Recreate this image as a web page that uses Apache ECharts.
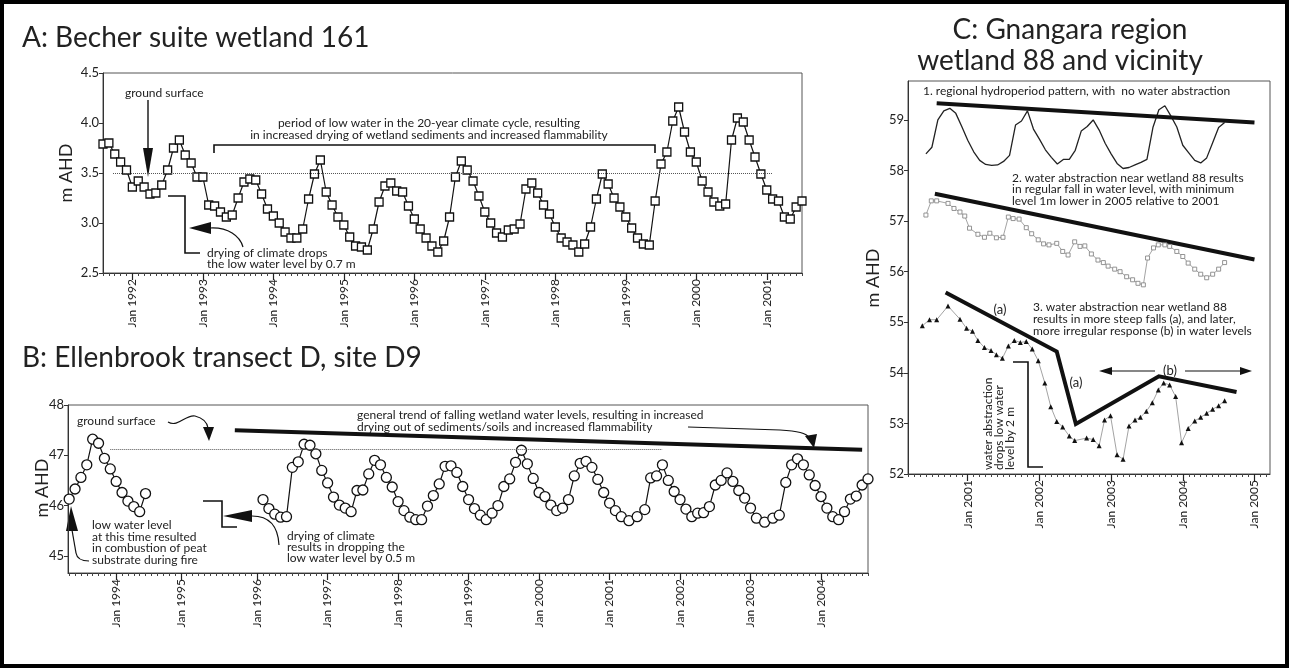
<!DOCTYPE html>
<html>
<head>
<meta charset="utf-8">
<script src="https://cdn.jsdelivr.net/npm/echarts@6/dist/echarts.min.js"></script>
<style>html,body{margin:0;background:#fff}#chart{width:1289px;height:668px}</style>
</head>
<body>
<div id="chart"></div>
<script>
const FONT = 'Lato, "Noto Sans", sans-serif';

// ---- A: Becher suite wetland 161 (monthly, months counted from Jan 1991, first = Aug 1991)
const aFirstMonth = 7;
const aLevels = [
  3.79, 3.80, 3.69, 3.61, 3.53, 3.36, 3.42, 3.36, 3.29, 3.30,
  3.38, 3.53, 3.75, 3.83, 3.68, 3.60, 3.46, 3.46, 3.18, 3.17,
  3.11, 3.06, 3.08, 3.25, 3.41, 3.44, 3.43, 3.29, 3.14, 3.07,
  3.00, 2.91, 2.85, 2.85, 2.94, 3.24, 3.49, 3.63, 3.31, 3.18,
  3.06, 2.98, 2.86, 2.77, 2.76, 2.73, 2.94, 3.21, 3.37, 3.40,
  3.32, 3.31, 3.17, 3.04, 2.94, 2.85, 2.77, 2.71, 2.82, 3.06,
  3.46, 3.62, 3.53, 3.42, 3.27, 3.11, 3.00, 2.90, 2.86, 2.93,
  2.94, 2.99, 3.34, 3.40, 3.30, 3.18, 3.09, 2.96, 2.85, 2.81,
  2.78, 2.71, 2.79, 2.96, 3.24, 3.49, 3.39, 3.25, 3.16, 3.06,
  2.95, 2.85, 2.79, 2.78, 3.22, 3.59, 3.71, 4.02, 4.16, 3.91,
  3.71, 3.61, 3.42, 3.31, 3.21, 3.17, 3.19, 3.83, 4.05, 4.01,
  3.83, 3.66, 3.49, 3.33, 3.24, 3.22, 3.06, 3.04, 3.16, 3.22
];
const aTickMonths = [12, 24, 36, 48, 60, 72, 84, 96, 108, 120];
const aTickLabels = ['Jan 1992', 'Jan 1993', 'Jan 1994', 'Jan 1995', 'Jan 1996',
  'Jan 1997', 'Jan 1998', 'Jan 1999', 'Jan 2000', 'Jan 2001'];

// ---- B: Ellenbrook transect D, site D9 (axis slots as drawn, Jan 1994 = 0; null = gap)
const bMonths = [
  -8, -7, -6, -5, -4, -3, -2, -1, 0, 1, 2, 3, 4, 5, 15,
  25, 26, 27, 28, 29, 30, 31, 32, 33, 34, 35, 36, 37, 38, 39, 40,
  41, 42, 43, 44, 45, 46, 47, 48, 49, 50,
  51, 52, 53, 54, 55, 56, 57, 58, 59, 60, 61, 62, 63, 64, 65, 66,
  67, 68, 69, 70, 71, 72, 73, 74, 75, 76, 77, 78, 79, 80, 81, 82,
  83, 84, 85, 86, 87.3, 88.7, 90, 91, 92, 93, 94, 95, 96, 97, 98,
  99, 100, 101, 102, 103, 104, 105, 106, 107, 108, 109, 110.4, 111.8, 112.9,
  114, 115, 116, 117, 118, 119, 120, 121, 122, 123, 124, 125, 126, 127, 128
];
const bLevels = [
  46.13, 46.33, 46.56, 46.81, 47.32, 47.24, 46.94, 46.73, 46.48, 46.26, 46.09, 45.98, 45.88, 46.24, null,
  46.12, 45.94, 45.83, 45.77, 45.78, 46.76, 46.87, 47.22, 47.20, 47.03, 46.70, 46.45, 46.17, 46.01, 45.95, 45.88,
  46.30, 46.31, 46.63, 46.90, 46.81, 46.56, 46.37, 46.08, 45.90, 45.77,
  45.72, 45.72, 45.99, 46.20, 46.43, 46.78, 46.79, 46.66, 46.38, 46.12, 45.94, 45.81, 45.72, 45.85, 46.00, 46.38,
  46.53, 46.86, 47.10, 46.83, 46.54, 46.26, 46.18, 46.01, 45.90, 45.95, 46.12, 46.59, 46.84, 46.88, 46.76, 46.52,
  46.26, 46.05, 45.90, 45.78, 45.70, 45.78, 45.92, 46.55, 46.59, 46.81, 46.50, 46.28, 46.12, 45.93, 45.78,
  45.85, 45.86, 45.98, 46.41, 46.50, 46.65, 46.48, 46.30, 46.15, 45.95, 45.75, 45.67, 45.75, 45.81,
  46.46, 46.81, 46.93, 46.81, 46.61, 46.40, 46.18, 45.95, 45.78, 45.72, 45.88, 46.13, 46.19, 46.41, 46.53
];
const bTickSlots = [0, 11, 24, 36, 48, 60, 72, 84, 96, 108, 120];
const bTickLabels = ['Jan 1994', 'Jan 1995', 'Jan 1996', 'Jan 1997', 'Jan 1998', 'Jan 1999',
  'Jan 2000', 'Jan 2001', 'Jan 2002', 'Jan 2003', 'Jan 2004'];
const bTrendMonths = [20.2, 127];
const bTrendLevels = [47.50, 47.11];

// ---- C: Gnangara region (months counted from Jan 2000)
const c1Months = [5, 6, 7, 8, 9, 10, 11, 12, 13, 14, 15, 16, 17, 18, 19, 20, 21, 22, 23, 24, 25, 26, 27,
  28, 29, 30, 31, 32, 33, 34, 35, 36, 37, 38, 39, 40, 41, 42, 43, 44, 45, 46, 47, 48, 49, 50, 51, 52, 53, 54, 55];
const c1Levels = [58.33, 58.46, 59.00, 59.18, 59.23, 59.13, 58.87, 58.60, 58.37, 58.20, 58.12, 58.10, 58.11,
  58.18, 58.30, 58.90, 58.98, 59.18, 58.82, 58.62, 58.41, 58.26, 58.13, 58.22, 58.22, 58.40, 58.78, 58.87,
  59.00, 58.80, 58.54, 58.33, 58.14, 58.04, 58.06, 58.11, 58.16, 58.22, 58.85, 59.20, 59.28, 59.08, 58.86,
  58.50, 58.35, 58.20, 58.15, 58.25, 58.55, 58.85, 58.95];
const c2Months = [5.0, 5.9, 6.8, 8.7, 9.7, 10.7, 11.5, 12.3, 13.7, 14.8, 15.7, 16.8, 17.9, 18.8, 19.6, 20.6,
  21.8, 22.7, 23.8, 24.7, 25.6, 26.9, 27.9, 28.8, 29.9, 30.8, 31.6, 32.7, 33.8, 34.7, 35.5, 36.6, 37.5, 38.6,
  39.6, 40.5, 41.4, 42.1, 43.1, 43.9, 45.0, 45.8, 47.0, 48.0, 48.9, 50, 51, 52, 53, 54, 55];
const c2Levels = [57.12, 57.40, 57.40, 57.35, 57.25, 57.18, 57.10, 56.86, 56.74, 56.68, 56.76, 56.67, 56.68,
  57.08, 57.05, 57.04, 56.87, 56.75, 56.63, 56.55, 56.53, 56.56, 56.40, 56.33, 56.59, 56.50, 56.51, 56.35,
  56.23, 56.18, 56.11, 56.05, 56.00, 55.90, 55.84, 55.77, 55.74, 56.27, 56.47, 56.53, 56.53, 56.50, 56.40,
  56.30, 56.17, 56.05, 55.95, 55.88, 55.95, 56.05, 56.18];
const c3Months = [4.4, 5.6, 6.8, 8.7, 10.7, 11.8, 12.8, 13.7, 14.8, 15.9, 16.8, 17.8, 18.8, 19.8, 20.8, 21.8,
  22.8, 23.8, 24.9, 25.9, 26.9, 27.9, 29.0, 29.9, 31.9, 33.0, 34.0, 34.9, 35.9, 37.0, 38.0, 39.0, 40.0, 40.9,
  41.9, 42.9, 43.9, 44.8, 45.8, 46.8, 47.8, 48.9, 50, 51, 52, 53, 54, 55];
const c3Levels = [54.93, 55.05, 55.05, 55.32, 55.06, 54.88, 54.82, 54.64, 54.50, 54.44, 54.36, 54.29, 54.53,
  54.64, 54.60, 54.62, 54.47, 54.24, 53.80, 53.33, 53.04, 52.93, 52.75, 52.66, 52.71, 52.68, 52.56, 53.07,
  53.15, 52.38, 52.29, 52.95, 53.07, 53.12, 53.24, 53.41, 53.66, 53.80, 53.76, 53.53, 52.62, 52.90, 53.05,
  53.12, 53.20, 53.28, 53.35, 53.45];
const c1TrendMonths = [6.8, 60];
const c1TrendLevels = [59.33, 58.95];
const c2TrendMonths = [6.5, 60];
const c2TrendLevels = [57.54, 56.24];
const c3TrendMonths = [8.3, 26.9, 30.1, 44.0, 57];
const c3TrendLevels = [55.59, 54.42, 52.99, 53.93, 53.62];
const cTickMonths = [12, 24, 36, 48, 60];
const cTickLabels = ['Jan 2001', 'Jan 2002', 'Jan 2003', 'Jan 2004', 'Jan 2005'];

const pairs = (xs, ys) => xs.map((x, i) => [x, ys[i] == null ? '-' : ys[i]]);
const steps = (a, b) => { const r = []; for (let v = a; v <= b; v++) r.push(v); return r; };

function minorAxis(grid, min, max) {
  return {
    type: 'value', gridIndex: grid, min, max, position: 'bottom',
    axisLine: { show: true, onZero: false, lineStyle: { color: '#333', width: 1 } },
    axisTick: { show: true, customValues: steps(Math.ceil(min), Math.floor(max)), length: 3, lineStyle: { color: '#444' } },
    axisLabel: { show: false }, splitLine: { show: false }
  };
}
function majorAxis(grid, min, max, ticks, labels) {
  return {
    type: 'value', gridIndex: grid, min, max, position: 'bottom',
    axisLine: { show: false, onZero: false },
    axisTick: { show: true, customValues: ticks, length: 7, lineStyle: { color: '#222', width: 1.2 } },
    axisLabel: {
      customValues: ticks, rotate: 90, margin: 6, fontSize: 12, color: '#222', fontFamily: FONT,
      formatter: v => labels[ticks.findIndex(t => Math.abs(t - v) < 1e-6)]
    },
    splitLine: { show: false }
  };
}
function levelAxis(grid, min, max, ticks, dec) {
  return {
    type: 'value', gridIndex: grid, min, max, position: 'left',
    axisLine: { show: true, onZero: false, lineStyle: { color: '#333', width: 1 } },
    axisTick: { show: true, customValues: ticks, length: 4, lineStyle: { color: '#333' } },
    axisLabel: { customValues: ticks, margin: 4, fontSize: 13, color: '#222', fontFamily: FONT,
      formatter: v => v.toFixed(dec) },
    splitLine: { show: false }
  };
}

const txt = (x, y, text, o = {}) => ({
  type: 'text', x, y, rotation: o.rot || 0, silent: true,
  style: { text, fill: '#222', font: (o.size || 12) + 'px ' + FONT,
    align: o.align || 'left', textAlign: o.align || 'left',
    verticalAlign: 'middle', textVerticalAlign: 'middle' }
});
const pline = (pts, w = 1.4) => ({ type: 'polyline', silent: true, shape: { points: pts },
  style: { stroke: '#111', lineWidth: w, fill: null } });
const head = pts => ({ type: 'polygon', silent: true, shape: { points: pts }, style: { fill: '#111' } });
const curve = (x1, y1, c1x, c1y, c2x, c2y, x2, y2, w = 1.2) => ({ type: 'bezierCurve', silent: true,
  shape: { x1, y1, cpx1: c1x, cpy1: c1y, cpx2: c2x, cpy2: c2y, x2, y2 },
  style: { stroke: '#111', lineWidth: w, fill: null } });

const graphics = [
  { type: 'rect', silent: true, shape: { x: 2, y: 2, width: 1285, height: 664 },
    style: { fill: null, stroke: '#000', lineWidth: 4 } },
  txt(22, 38, 'A: Becher suite wetland 161', { size: 28 }),
  txt(22, 358, 'B: Ellenbrook transect D, site D9', { size: 28 }),
  txt(1070, 30, 'C: Gnangara region', { size: 28, align: 'center' }),
  txt(1060, 61, 'wetland 88 and vicinity', { size: 28, align: 'center' }),
  txt(66, 173, 'm AHD', { size: 18, rot: Math.PI / 2, align: 'center' }),
  txt(42, 488, 'm AHD', { size: 18, rot: Math.PI / 2, align: 'center' }),
  txt(873, 278, 'm AHD', { size: 18, rot: Math.PI / 2, align: 'center' }),

  // A annotations
  txt(125, 93, 'ground surface'),
  pline([[148, 100], [148, 150]]), head([[143, 148], [153, 148], [148, 177]]),
  pline([[214, 153], [214, 145], [655, 145], [655, 153]], 1.6),
  txt(429, 123, 'period of low water in the 20-year climate cycle, resulting', { align: 'center' }),
  txt(429, 135, 'in increased drying of wetland sediments and increased flammability', { align: 'center' }),
  pline([[168, 196], [185, 196], [185, 253], [200, 253]], 1.6),
  head([[189, 228], [211, 222], [211, 234]]),
  curve(210, 228, 228, 227, 240, 236, 243, 247),
  txt(207, 253, 'drying of climate drops'),
  txt(207, 264, 'the low water level by 0.7 m'),

  // B annotations
  txt(77, 421, 'ground surface'),
  curve(168, 422, 178, 428, 186, 414, 195, 416), curve(195, 416, 203, 418, 207, 422, 208, 428),
  head([[203, 427], [214, 427], [209, 441]]),
  txt(357, 415, 'general trend of falling wetland water levels, resulting in increased'),
  txt(357, 427, 'drying out of sediments/soils and increased flammability'),
  pline([[688, 427], [780, 430]], 1.2), curve(780, 430, 798, 431, 806, 433, 810, 438),
  head([[805, 436], [817, 434], [814, 448]]),
  pline([[203, 501], [222, 501], [222, 527], [237, 527]], 1.6),
  head([[223, 516], [252, 510], [252, 522]]),
  curve(252, 516, 268, 516, 278, 525, 279, 545),
  txt(287, 536, 'drying of climate'),
  txt(287, 547, 'results in dropping the'),
  txt(287, 558, 'low water level by 0.5 m'),
  txt(92, 525, 'low water level'),
  txt(92, 537, 'at this time resulted'),
  txt(92, 548, 'in combustion of peat'),
  txt(92, 560, 'substrate during fire'),
  head([[66, 531], [78, 531], [71, 506]]),
  pline([[72, 530], [76, 553]], 1.2), curve(76, 553, 77, 559, 82, 561, 89, 561),

  // C annotations
  txt(923, 91, '1. regional hydroperiod pattern, with  no water abstraction'),
  txt(1012, 178, '2. water abstraction near wetland 88 results'),
  txt(1012, 189, 'in regular fall in water level, with minimum'),
  txt(1012, 201, 'level 1m lower in 2005 relative to 2001'),
  txt(1033, 307, '3. water abstraction near wetland 88'),
  txt(1033, 319, 'results in more steep falls (a), and later,'),
  txt(1033, 331, 'more irregular response (b) in water levels'),
  txt(1000, 310, '(a)', { size: 13, align: 'center' }),
  txt(1076, 383, '(a)', { size: 13, align: 'center' }),
  txt(1170, 371, '(b)', { size: 13, align: 'center' }),
  pline([[1110, 371], [1155, 371]], 1.2), head([[1099, 371], [1112, 367], [1112, 375]]),
  pline([[1185, 371], [1240, 371]], 1.2), head([[1252, 371], [1240, 367], [1240, 375]]),
  pline([[1013, 362], [1028, 362], [1028, 467], [1043, 467]], 1.6),
  txt(988, 470, 'water abstraction', { rot: Math.PI / 2 }),
  txt(999, 470, 'drops low water', { rot: Math.PI / 2 }),
  txt(1010, 470, 'level by 2 m', { rot: Math.PI / 2 })
];

const boxStyle = { show: true, borderColor: '#555', borderWidth: 1, backgroundColor: 'transparent' };
const option = {
  animation: false,
  backgroundColor: '#fff',
  textStyle: { fontFamily: FONT },
  grid: [
    Object.assign({ left: 103, top: 73, width: 699, height: 200 }, boxStyle),
    Object.assign({ left: 68, top: 405, width: 800, height: 168 }, boxStyle),
    Object.assign({ left: 908, top: 81, width: 362, height: 393 }, boxStyle)
  ],
  xAxis: [
    minorAxis(0, 7, 126), majorAxis(0, 7, 126, aTickMonths, aTickLabels),
    minorAxis(1, -8.2, 128), majorAxis(1, -8.2, 128, bTickSlots, bTickLabels),
    minorAxis(2, 2, 62.6), majorAxis(2, 2, 62.6, cTickMonths, cTickLabels)
  ],
  yAxis: [
    levelAxis(0, 2.5, 4.5, [2.5, 3, 3.5, 4, 4.5], 1),
    levelAxis(1, 44.66, 48, [45, 46, 47, 48], 0),
    levelAxis(2, 52, 59.77, [52, 53, 54, 55, 56, 57, 58, 59], 0)
  ],
  series: [
    {
      type: 'line', xAxisIndex: 0, yAxisIndex: 0,
      data: aLevels.map((v, i) => [aFirstMonth + i, v]),
      symbol: 'rect', symbolSize: 8,
      itemStyle: { color: '#fff', borderColor: '#111', borderWidth: 1.3 },
      lineStyle: { color: '#111', width: 1.2 },
      markLine: { silent: true, symbol: 'none', label: { show: false },
        lineStyle: { type: 'dotted', color: '#555', width: 1 },
        data: [[{ coord: [8.7, 3.5] }, { coord: [121, 3.5] }]] }
    },
    {
      type: 'line', xAxisIndex: 2, yAxisIndex: 1,
      data: pairs(bMonths, bLevels),
      symbol: 'circle', symbolSize: 10, connectNulls: false,
      itemStyle: { color: '#fff', borderColor: '#111', borderWidth: 1.3 },
      lineStyle: { color: '#111', width: 1.2 },
      markLine: { silent: true, symbol: 'none', label: { show: false },
        lineStyle: { type: 'dotted', color: '#555', width: 1 },
        data: [[{ coord: [-1, 47.12] }, { coord: [93, 47.12] }]] }
    },
    {
      type: 'line', xAxisIndex: 2, yAxisIndex: 1, data: pairs(bTrendMonths, bTrendLevels),
      symbol: 'none', lineStyle: { color: '#111', width: 4 }
    },
    {
      type: 'line', xAxisIndex: 4, yAxisIndex: 2, data: pairs(c1Months, c1Levels),
      symbol: 'none', lineStyle: { color: '#222', width: 1.3 }
    },
    {
      type: 'line', xAxisIndex: 4, yAxisIndex: 2, data: pairs(c2Months, c2Levels),
      symbol: 'rect', symbolSize: 4,
      itemStyle: { color: '#fff', borderColor: '#888', borderWidth: 0.9 },
      lineStyle: { color: '#999', width: 0.9 }
    },
    {
      type: 'line', xAxisIndex: 4, yAxisIndex: 2, data: pairs(c3Months, c3Levels),
      symbol: 'triangle', symbolSize: 5,
      itemStyle: { color: '#111' },
      lineStyle: { color: '#999', width: 0.9 }
    },
    { type: 'line', xAxisIndex: 4, yAxisIndex: 2, data: pairs(c1TrendMonths, c1TrendLevels),
      symbol: 'none', lineStyle: { color: '#111', width: 4 } },
    { type: 'line', xAxisIndex: 4, yAxisIndex: 2, data: pairs(c2TrendMonths, c2TrendLevels),
      symbol: 'none', lineStyle: { color: '#111', width: 4 } },
    { type: 'line', xAxisIndex: 4, yAxisIndex: 2, data: pairs(c3TrendMonths, c3TrendLevels),
      symbol: 'none', lineStyle: { color: '#111', width: 4, join: 'miter' } }
  ],
  graphic: graphics
};

const chart = echarts.init(document.getElementById('chart'));
chart.setOption(option);
</script>
</body>
</html>
